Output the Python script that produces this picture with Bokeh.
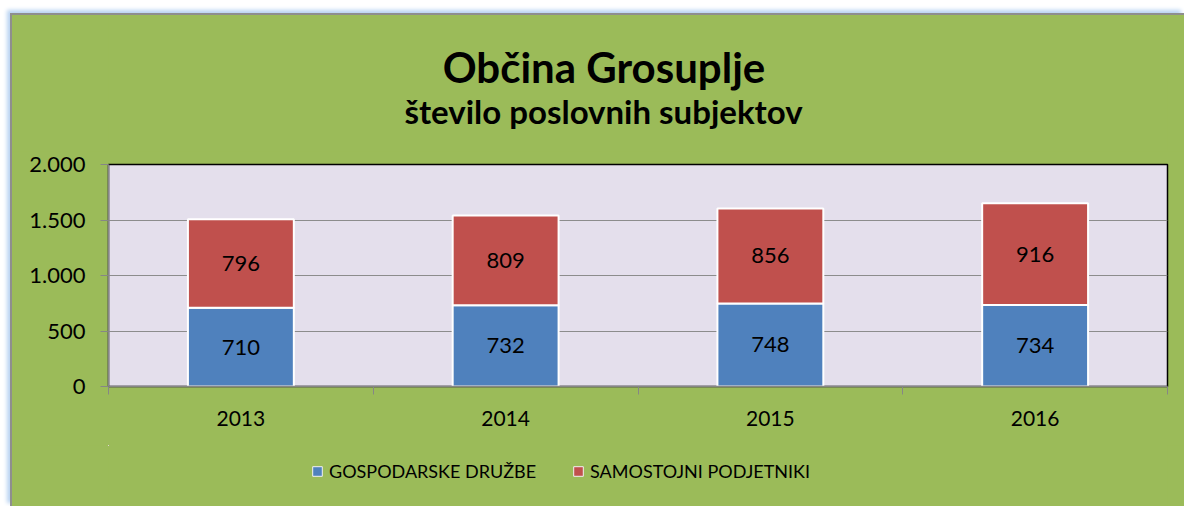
from bokeh.plotting import figure
from bokeh.layouts import column
from bokeh.models import (ColumnDataSource, Range1d, FixedTicker, LabelSet, Label,
                          Legend, LegendItem)
from bokeh.core.properties import value
from bokeh.embed import file_html
from bokeh.resources import INLINE

# ---- data ----
years = ["2013", "2014", "2015", "2016"]
gospodarske = [710, 732, 748, 734]
samostojni = [796, 809, 856, 916]
series_names = ["GOSPODARSKE DRUŽBE", "SAMOSTOJNI PODJETNIKI"]
y_ticks = [0, 500, 1000, 1500, 2000]
y_tick_labels = ["0", "500", "1.000", "1.500", "2.000"]
title_main = "Občina Grosuplje"
title_sub = "število poslovnih subjektov"

GREEN = "#9BBB59"
BLUE = "#4F81BD"
RED = "#C0504D"
PLOT_BG = "#E4DFEC"
FONT = "Lato"
W = 1172
BL, BR = 96, 17   # side borders shared by all three strips

xs = [i + 0.5 for i in range(len(years))]
src = ColumnDataSource(dict(
    x=xs, g=gospodarske, s=samostojni,
    g_mid=[v / 2 for v in gospodarske],
    s_mid=[g + s / 2 for g, s in zip(gospodarske, samostojni)],
    g_txt=[str(v) for v in gospodarske],
    s_txt=[str(v) for v in samostojni],
))

# ---------- title strip (page-pixel coordinates) ----------
pt = figure(width=W, height=136, x_range=Range1d(108, 1167), y_range=Range1d(151, 15),
            output_backend="svg", toolbar_location=None,
            x_axis_location=None, y_axis_location=None,
            min_border_left=BL, min_border_right=BR, min_border_top=0, min_border_bottom=0,
            background_fill_color=None, border_fill_color=GREEN,
            outline_line_color=None)
pt.title.visible = False
pt.grid.visible = False
pt.add_layout(Label(x=603.5, y=66.0, text=title_main, text_align="center",
                    text_baseline="alphabetic", text_font=FONT,
                    text_font_style="bold", text_font_size="42px",
                    text_color="#000000"))
pt.add_layout(Label(x=603.0, y=110.7, text=title_sub, text_align="center",
                    text_baseline="alphabetic", text_font=FONT,
                    text_font_style="bold", text_font_size="33px",
                    text_color="#000000"))

# ---------- chart ----------
p = figure(width=W, height=294,
           x_range=Range1d(0, len(years)), y_range=Range1d(0, 2000),
           output_backend="svg", toolbar_location=None,
           min_border_left=BL, min_border_right=BR,
           min_border_top=13, min_border_bottom=59,
           background_fill_color=PLOT_BG, border_fill_color=GREEN,
           outline_line_color="#000000", outline_line_width=1.5)
p.title.visible = False

rs = p.vbar_stack(["g", "s"], x="x", width=0.4, source=src,
                  color=[BLUE, RED], line_color="white", line_width=2)

p.xgrid.visible = False
p.ygrid.ticker = FixedTicker(ticks=y_ticks)
p.ygrid.grid_line_color = "#8C8C8C"
p.ygrid.grid_line_width = 1.2

ya = p.yaxis[0]
ya.ticker = FixedTicker(ticks=y_ticks)
ya.major_label_overrides = {t: l for t, l in zip(y_ticks, y_tick_labels)}
ya.axis_line_color = "#868686"
ya.axis_line_width = 1.5
ya.major_tick_line_color = "#868686"
ya.major_tick_out = 8
ya.major_tick_in = 0
ya.minor_tick_line_color = None
ya.major_label_standoff = 15
ya.major_label_text_font = FONT
ya.major_label_text_font_size = "22px"
ya.major_label_text_color = "#000000"

xa = p.xaxis[0]
xa.ticker = FixedTicker(ticks=xs, minor_ticks=list(range(len(years) + 1)))
xa.major_label_overrides = {x: y for x, y in zip(xs, years)}
xa.axis_line_color = "#868686"
xa.axis_line_width = 1.5
xa.major_tick_line_color = None
xa.minor_tick_line_color = "#868686"
xa.minor_tick_out = 8
xa.minor_tick_in = 0
xa.major_label_standoff = 16
xa.major_label_text_font = FONT
xa.major_label_text_font_size = "21px"
xa.major_label_text_color = "#000000"

for col, ycol in (("g_txt", "g_mid"), ("s_txt", "s_mid")):
    p.add_layout(LabelSet(x="x", y=ycol, text=col, source=src,
                          text_align="center", text_baseline="middle",
                          text_font=value(FONT), text_font_size="22px",
                          text_color="#000000"))

# ---------- legend strip ----------
# same series drawn again, but the visible window lies away from the data,
# so only the legend swatches of these renderers show.
pl = figure(width=W, height=61, x_range=Range1d(50, 51), y_range=Range1d(-20000, -10000),
            output_backend="svg", toolbar_location=None,
            x_axis_location=None, y_axis_location=None,
            min_border_left=BL, min_border_right=BR, min_border_top=0, min_border_bottom=0,
            background_fill_color=None, border_fill_color=GREEN,
            outline_line_color=None)
pl.title.visible = False
pl.grid.visible = False
swatches = pl.vbar_stack(["g", "s"], x="x", width=0.4, source=src,
                         color=[BLUE, RED], line_color="#F2F2F2", line_width=1)
legend = Legend(items=[LegendItem(label=n, renderers=[r]) for n, r in zip(series_names, swatches)],
                orientation="horizontal", location=(203, 24),
                glyph_width=12, glyph_height=12, label_standoff=6, spacing=36,
                padding=0, margin=0,
                label_text_font=FONT, label_text_font_size="18px",
                label_text_color="#000000",
                background_fill_alpha=0, border_line_color=None)
pl.add_layout(legend, "center")

layout = column(pt, p, pl, spacing=0, margin=(13, 0, 0, 10),
                styles={"border-top": "2px solid #8E8E8E", "border-left": "2px solid #8E8E8E",
                        "box-shadow": "-3px -3px 4px #B9D3F2",
                        "background-color": GREEN})

open("out.html", "w").write(file_html(layout, INLINE))
